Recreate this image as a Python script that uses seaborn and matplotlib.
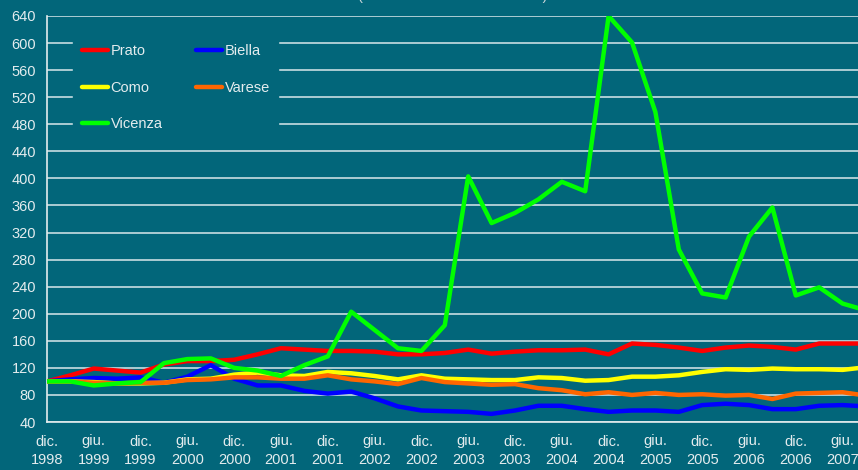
import numpy as np
import pandas as pd
import seaborn as sns
from matplotlib import pyplot as plt

# quarterly index, dic. 1998 = 100 (last point sep. 2007 is cut by the frame)
prato = [100, 109, 119, 116, 113, 125, 130, 130, 132, 140, 149, 147, 145, 145, 144, 140,
         140, 142, 147, 141, 144, 146, 146, 147, 140, 156, 154, 150, 145, 150, 153, 151,
         147, 156, 156, 156]
biella = [100, 103, 105, 104, 106, 98, 107, 124, 104, 94, 94, 86, 82, 85, 75, 63,
          57, 56, 55, 52, 57, 64, 64, 59, 55, 57, 57, 55, 65, 67, 65, 59,
          59, 64, 65, 63]
como = [100, 100, 99, 97, 97, 98, 103, 104, 110, 113, 109, 108, 114, 112, 108, 103,
        109, 104, 103, 102, 102, 106, 105, 101, 102, 107, 107, 109, 114, 118, 117, 119,
        118, 118, 117, 121]
varese = [100, 100, 98, 97, 98, 98, 102, 103, 106, 106, 104, 104, 109, 103, 100, 96,
          105, 99, 97, 95, 96, 90, 87, 81, 84, 80, 83, 80, 81, 79, 80, 74,
          82, 83, 84, 79]
vicenza = [100, 100, 94, 97, 99, 127, 133, 134, 120, 116, 108, 124, 137, 203, 176, 149,
           145, 183, 403, 334, 349, 369, 395, 381, 640, 601, 498, 295, 230, 224, 314, 357,
           227, 239, 215, 205]

series_names = ["Prato", "Biella", "Como", "Varese", "Vicenza"]
series_colors = ["#ff0000", "#0000ff", "#ffff00", "#ff6600", "#00ff00"]

tick_labels = ["dic.\n1998", "giu.\n1999", "dic.\n1999", "giu.\n2000", "dic.\n2000",
               "giu.\n2001", "dic.\n2001", "giu.\n2002", "dic.\n2002", "giu.\n2003",
               "dic.\n2003", "giu.\n2004", "dic.\n2004", "giu.\n2005", "dic.\n2005",
               "giu.\n2006", "dic.\n2006", "giu.\n2007"]

BG = "#02667a"
FG = "#e4ecee"

sns.set_style("white")
plt.rcParams['font.family'] = ['Liberation Sans', 'DejaVu Sans']

values = dict(zip(series_names, [prato, biella, como, varese, vicenza]))
df = pd.DataFrame(values)
df["q"] = np.arange(len(df))
long = df.melt(id_vars="q", var_name="city", value_name="idx")

fig = plt.figure(figsize=(8.58, 4.70), dpi=100, facecolor=BG)
ax = fig.add_axes([47 / 858, 48 / 470, 811 / 858, 406 / 470])
ax.set_facecolor(BG)

# grid
for v in range(40, 641, 40):
    ax.axhline(v, color="#c9dde2", lw=1.2, zorder=0)

sns.lineplot(data=long, x="q", y="idx", hue="city", hue_order=series_names,
             palette=dict(zip(series_names, series_colors)), lw=3.2, ax=ax,
             legend=False, zorder=3)

ax.set_xlim(0, 811 / 23.4)
ax.set_ylim(40, 640)
ax.set_yticks(range(40, 641, 40))
ax.set_xticks(range(0, 35, 2))
ax.set_xticklabels(tick_labels)
ax.set_xlabel("")
ax.set_ylabel("")
ax.tick_params(axis="both", colors=FG, labelcolor=FG, labelsize=10.5,
               length=5, width=1.2, direction="out")
ax.tick_params(axis="x", pad=4)
ax.tick_params(axis="y", pad=3)
for lab in ax.get_xticklabels():
    lab.set_linespacing(1.45)

for side in ["top", "right"]:
    ax.spines[side].set_visible(False)
for side in ["left", "bottom"]:
    ax.spines[side].set_color(FG)
    ax.spines[side].set_linewidth(1.2)

# legend, filled column-wise: Prato, Como, Vicenza | Biella, Varese
order = ["Prato", "Como", "Vicenza", "Biella", "Varese"]
cmap = dict(zip(series_names, series_colors))
handles = [plt.Line2D([], [], color=cmap[n], lw=3.2) for n in order]
leg = ax.legend(handles, order, ncol=2, loc="upper left",
                bbox_to_anchor=(19 / 811, 1 - 12 / 406), frameon=True,
                facecolor=BG, edgecolor=BG, framealpha=1, fontsize=10.5,
                labelcolor=FG, handlelength=1.75, handletextpad=0.2,
                labelspacing=1.55, columnspacing=2.3, borderpad=0.6)
leg.set_zorder(5)

fig.text(0.528, 1.008, "(indice base dic. 1998 = 100)", color="#c9d6da",
         fontsize=10.5, ha="center", va="center")

fig.savefig("out.png", dpi=100, facecolor=BG)
